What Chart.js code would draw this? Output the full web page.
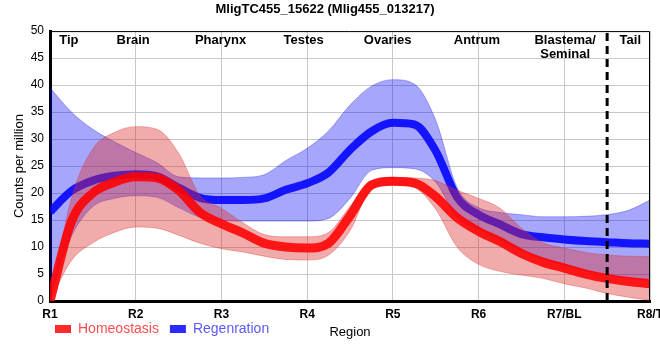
<!DOCTYPE html>
<html>
<head>
<meta charset="utf-8">
<script src="https://cdn.jsdelivr.net/npm/chart.js@4.4.0/dist/chart.umd.min.js"></script>
<style>
  html, body { margin: 0; padding: 0; background: #fff; }
</style>
</head>
<body>
<canvas id="chart" width="660" height="360"></canvas>
<script>
const chartTitle = 'MligTC455_15622 (Mlig455_013217)';
const regionTicks = ['R1', 'R2', 'R3', 'R4', 'R5', 'R6', 'R7/BL', 'R8/T'];
const regionNames = ['Tip', 'Brain', 'Pharynx', 'Testes', 'Ovaries', 'Antrum', ['Blastema/', 'Seminal'], 'Tail'];
const regionNamePos = [1.22, 1.97, 2.99, 3.96, 4.94, 5.98, 7.01, 7.77];
const cutPos = 7.5;
const legendNames = ['Homeostasis', 'Regenration'];

// positions along the body (1 = R1 ... 8 = R8/T)
const positions = [1, 1.25, 1.5, 1.75, 2, 2.25, 2.5, 2.75, 3, 3.25, 3.5, 3.75, 4, 4.25, 4.5, 4.75,
  5, 5.25, 5.5, 5.75, 6, 6.25, 6.5, 6.75, 7, 7.25, 7.5, 7.75, 8];

const homeoMean = [0, 14.7, 20.0, 22.0, 23.0, 22.8, 20.5, 16.4, 14.3, 12.6, 10.7, 10.0, 9.8, 10.7, 15.8, 21.5,
  22.2, 21.9, 19.3, 15.4, 12.9, 11.0, 8.8, 7.2, 6.1, 5.0, 4.2, 3.6, 3.2];
const homeoHigh = [0, 19.0, 28.2, 31.2, 32.3, 31.8, 27.4, 19.5, 17.2, 14.5, 12.3, 11.9, 11.9, 12.7, 17.5, 22.2,
  22.9, 22.8, 22.3, 20.5, 19.0, 17.2, 13.5, 10.8, 9.8, 9.0, 8.5, 8.3, 8.2];
const homeoLow = [0, 7.5, 10.8, 12.7, 13.7, 13.5, 12.2, 10.7, 9.7, 9.1, 8.3, 7.7, 7.6, 8.5, 13.0, 20.8,
  21.5, 21.0, 17.0, 10.0, 6.8, 5.5, 4.8, 4.2, 3.2, 2.4, 1.4, 0.7, 0.1];

const regenMean = [16.5, 20.4, 22.3, 23.2, 23.5, 23.1, 21.0, 19.1, 18.7, 18.7, 19.0, 20.6, 21.8, 23.8, 28.0, 31.4,
  33.0, 32.7, 27.8, 19.2, 16.0, 14.2, 12.4, 11.8, 11.4, 11.1, 10.9, 10.7, 10.6];
const regenHigh = [39.5, 35.0, 31.8, 29.5, 27.5, 25.6, 23.0, 22.8, 22.8, 22.9, 23.4, 26.0, 28.3, 31.5, 36.3, 39.8,
  41.0, 40.2, 33.5, 21.0, 17.3, 16.4, 16.0, 15.6, 15.6, 15.7, 16.0, 16.8, 18.7];
const regenLow = [1.0, 12.0, 17.5, 19.0, 19.5, 19.2, 17.3, 15.5, 14.9, 14.8, 14.8, 14.8, 14.8, 15.3, 19.0, 24.2,
  24.7, 24.5, 22.0, 15.5, 13.3, 11.3, 9.3, 7.8, 6.6, 5.6, 4.8, 4.2, 3.8];

const fontFamily = 'Arial, "Liberation Sans", sans-serif';
Chart.defaults.font.family = fontFamily;
Chart.defaults.color = '#000';

const redLine = 'rgba(255, 0, 0, 0.88)';
const redBand = 'rgba(222, 45, 45, 0.4)';
const redEdge = 'rgba(222, 45, 45, 0.35)';
const blueLine = 'rgba(0, 0, 255, 0.88)';
const blueBand = 'rgba(0, 0, 240, 0.35)';
const blueEdge = 'rgba(0, 0, 240, 0.3)';
const legendBox = ['#ff2a2a', '#2a2aff'];
const legendText = ['#ff4d4d', '#5a5aff'];

function toPoints(values) {
  return positions.map((x, i) => ({ x: x, y: values[i] }));
}

function lineSet(label, values, color, width, extra) {
  return Object.assign({
    label: label,
    data: toPoints(values),
    borderColor: color,
    backgroundColor: color,
    borderWidth: width,
    pointRadius: 0,
    cubicInterpolationMode: 'monotone',
    fill: false
  }, extra || {});
}

// names of the regions inside the top of the plot, the thin frame on top/right,
// and the legend pulled up onto the same row as the "Region" axis title
const regionLabelPlugin = {
  id: 'regionLabels',
  afterLayout(chart) {
    const lg = chart.legend;
    lg.top -= 12;
    lg.bottom -= 12;
    lg.left -= 6;
  },
  afterDraw(chart) {
    const { ctx, chartArea, scales } = chart;
    ctx.save();
    ctx.font = 'bold 13px ' + fontFamily;
    ctx.fillStyle = '#000';
    ctx.textAlign = 'center';
    ctx.textBaseline = 'middle';
    regionNames.forEach((name, i) => {
      const lines = Array.isArray(name) ? name : [name];
      const px = scales.x.getPixelForValue(regionNamePos[i]);
      lines.forEach((line, j) => ctx.fillText(line, px, chartArea.top + 9.5 + j * 14));
    });
    ctx.strokeStyle = '#000';
    ctx.lineWidth = 1;
    ctx.beginPath();
    ctx.moveTo(chartArea.left, chartArea.top + 0.5);
    ctx.lineTo(chartArea.right - 0.5, chartArea.top + 0.5);
    ctx.lineTo(chartArea.right - 0.5, chartArea.bottom);
    ctx.stroke();
    ctx.restore();
  }
};

new Chart(document.getElementById('chart'), {
  type: 'line',
  data: {
    datasets: [
      {
        label: 'cut',
        data: [{ x: cutPos, y: 0 }, { x: cutPos, y: 50 }],
        borderColor: '#000',
        borderWidth: 3,
        borderDash: [8, 5],
        pointRadius: 0,
        fill: false
      },
      lineSet('Homeostasis', homeoMean, redLine, 9),
      lineSet('homeoHigh', homeoHigh, redEdge, 1, { fill: '+1', backgroundColor: redBand }),
      lineSet('homeoLow', homeoLow, redEdge, 1),
      lineSet('Regenration', regenMean, blueLine, 8),
      lineSet('regenHigh', regenHigh, blueEdge, 1, { fill: '+1', backgroundColor: blueBand }),
      lineSet('regenLow', regenLow, blueEdge, 1)
    ]
  },
  options: {
    responsive: false,
    animation: false,
    layout: { padding: { left: 0, right: 10, top: 0, bottom: 2 } },
    plugins: {
      title: {
        display: true,
        text: chartTitle,
        font: { size: 13, weight: 'bold' },
        padding: { top: 2, bottom: 13.5 }
      },
      legend: {
        position: 'bottom',
        align: 'start',
        fullSize: false,
        labels: {
          boxWidth: 16,
          boxHeight: 8,
          padding: 11,
          font: { size: 14 },
          generateLabels(chart) {
            const items = Chart.defaults.plugins.legend.labels.generateLabels(chart);
            return items.map(item => {
              const k = legendNames.indexOf(item.text);
              if (k >= 0) {
                item.fillStyle = legendBox[k];
                item.strokeStyle = legendBox[k];
                item.lineWidth = 0;
                item.fontColor = legendText[k];
              }
              return item;
            });
          },
          filter: item => legendNames.includes(item.text)
        }
      },
      tooltip: { enabled: false }
    },
    scales: {
      x: {
        type: 'linear',
        min: 1,
        max: 8,
        afterFit(scale) {
          scale.height = 22;
          scale.paddingRight = 0;
        },
        border: { color: '#000', width: 3 },
        grid: { color: '#c8c8c8', drawTicks: false },
        ticks: {
          stepSize: 1,
          padding: 6,
          font: { size: 12, weight: 'bold' },
          callback: v => regionTicks[v - 1]
        },
        title: {
          display: true,
          text: 'Region',
          font: { size: 13 },
          padding: { top: 4, bottom: -16.8 }
        }
      },
      y: {
        min: 0,
        max: 50,
        afterFit(scale) {
          scale.width = 50;
        },
        border: { color: '#000', width: 3 },
        grid: { color: '#c8c8c8', drawTicks: false },
        ticks: { stepSize: 5, padding: 6, font: { size: 12 } },
        title: {
          display: true,
          text: 'Counts per million',
          font: { size: 13 },
          padding: { top: 12, bottom: 0 }
        }
      }
    }
  },
  plugins: [regionLabelPlugin]
});
</script>
</body>
</html>
